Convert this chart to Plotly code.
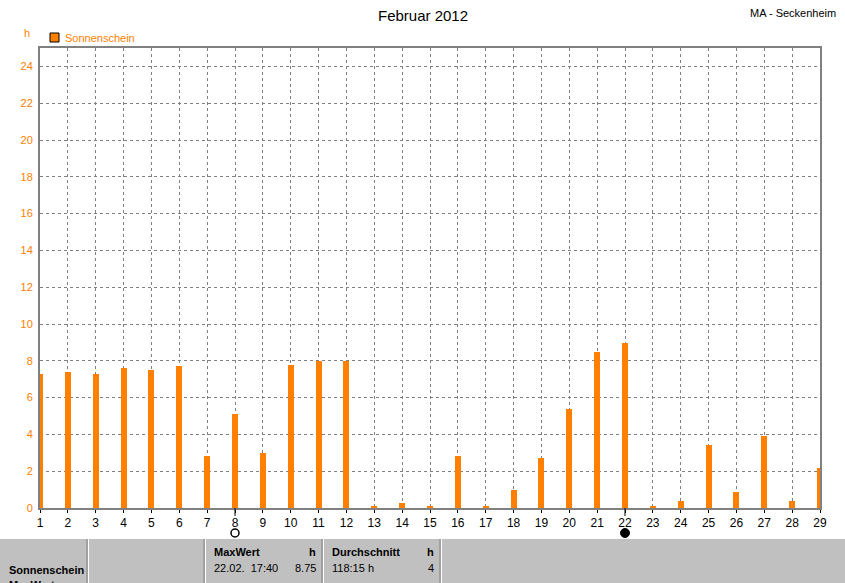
import plotly.graph_objects as go

days = list(range(1, 30))
sunshine_h = [7.3, 7.4, 7.3, 7.6, 7.5, 7.7, 2.85, 5.1, 3.0, 7.75,
              8.0, 8.0, 0.08, 0.27, 0.08, 2.85, 0.08, 1.0, 2.7, 5.4,
              8.5, 8.95, 0.08, 0.4, 3.4, 0.85, 3.9, 0.4, 2.2]
y_ticks = list(range(0, 25, 2))
full_moon_days = [8]
new_moon_days = [22]

title = "Februar 2012"
station = "MA - Seckenheim"
series_name = "Sonnenschein"
unit = "h"

ORANGE = "#FF8000"
GRAY = "#808080"
FONT = "Liberation Sans, Arial, sans-serif"

W, H = 845, 583
L, R, T, B = 40, 820, 48, 508


def px(x):
    return (x - L) / (R - L)


def py(y):
    return (B - y) / (B - T)


fig = go.Figure()
fig.add_trace(go.Bar(x=days, y=sunshine_h, width=0.22, marker=dict(color=ORANGE, line=dict(width=0)),
                     name=series_name, showlegend=False))

shapes = []
annotations = []

# moon phase ticks and symbols (positioned on the day axis)
for d in full_moon_days + new_moon_days:
    shapes.append(dict(type="line", xref="x", yref="paper", x0=d, x1=d, y0=py(508), y1=py(516),
                       line=dict(color="black", width=1)))
for d in full_moon_days:
    shapes.append(dict(type="circle", xref="x", yref="paper", xsizemode="pixel", ysizemode="pixel",
                       xanchor=d, yanchor=py(533), x0=-4, x1=4, y0=-4, y1=4,
                       line=dict(color="black", width=1.5), fillcolor="white"))
for d in new_moon_days:
    shapes.append(dict(type="circle", xref="x", yref="paper", xsizemode="pixel", ysizemode="pixel",
                       xanchor=d, yanchor=py(533), x0=-4.5, x1=4.5, y0=-4.5, y1=4.5,
                       line=dict(color="black", width=1), fillcolor="black"))

# table background
shapes.append(dict(type="rect", xref="paper", yref="paper", x0=px(0), x1=px(W), y0=py(539), y1=py(H + 5),
                   fillcolor="#C0C0C0", line=dict(width=0), layer="below"))
for sx in [87, 204, 322, 440]:
    shapes.append(dict(type="line", xref="paper", yref="paper", x0=px(sx), x1=px(sx), y0=py(539), y1=py(H + 5),
                       line=dict(color=GRAY, width=1)))
    shapes.append(dict(type="line", xref="paper", yref="paper", x0=px(sx + 1.5), x1=px(sx + 1.5), y0=py(539), y1=py(H + 5),
                       line=dict(color="white", width=1)))

# legend square
shapes.append(dict(type="rect", xref="paper", yref="paper", x0=px(50), x1=px(59), y0=py(42), y1=py(33),
                   fillcolor=ORANGE, line=dict(color="black", width=1)))


def ann(text, x, y, xanchor="left", size=11, color="black", bold=False):
    if bold:
        text = "<b>" + text + "</b>"
    annotations.append(dict(text=text, xref="paper", yref="paper", x=px(x), y=py(y), xanchor=xanchor,
                            yanchor="middle", showarrow=False, font=dict(size=size, color=color, family=FONT)))


ann(title, 423, 15, "center", size=15)
ann(station, 838, 13, "right", size=11)
ann(unit, 27, 33, "center", size=11, color=ORANGE)
ann(series_name, 63, 38, "left", size=11, color=ORANGE)

ann("MaxWert", 212, 552, bold=True)
ann("h", 318, 552, "right", bold=True)
ann("Durchschnitt", 330, 552, bold=True)
ann("h", 436, 552, "right", bold=True)
ann("Sonnenschein", 7, 570, bold=True)
ann("22.02.  17:40", 212, 568)
ann("8.75", 318, 568, "right")
ann("118:15 h", 330, 568)
ann("4", 436, 568, "right")
ann("MaxWert", 7, 585, bold=True)

fig.update_layout(
    width=W, height=H,
    margin=dict(l=L, r=W - R, t=T, b=H - B, pad=0),
    paper_bgcolor="white", plot_bgcolor="white",
    showlegend=False,
    shapes=shapes, annotations=annotations,
    font=dict(family=FONT, size=11, color="black"),
    bargap=0,
)
fig.update_xaxes(range=[1, 29], tickvals=days, ticktext=[str(d) for d in days],
                 showgrid=True, gridcolor=GRAY, griddash="3px,3px", gridwidth=1,
                 showline=True, linecolor=GRAY, linewidth=2, mirror=True,
                 ticks="outside", ticklen=3, tickcolor="black",
                 tickfont=dict(size=12, color="black", family=FONT), zeroline=False, fixedrange=True)
fig.update_yaxes(range=[0, 25], tickvals=y_ticks,
                 showgrid=True, gridcolor=GRAY, griddash="3px,3px", gridwidth=1,
                 showline=True, linecolor=GRAY, linewidth=2, mirror=True,
                 ticks="", ticklabelstandoff=3,
                 tickfont=dict(size=11, color=ORANGE, family=FONT), zeroline=False, fixedrange=True)

fig.write_html("out.html", config={"displayModeBar": False},
               post_script="document.body.style.margin='0';document.body.style.overflow='hidden';")
